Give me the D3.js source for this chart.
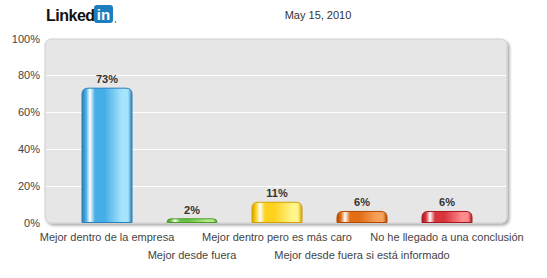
<!DOCTYPE html>
<html>
<head>
<meta charset="utf-8">
<script src="https://cdn.jsdelivr.net/npm/d3@7"></script>
<style>
  body { margin: 0; background: #fff; }
  text { font-family: "Liberation Sans", Arial, sans-serif; }
</style>
</head>
<body>
<svg id="chart" width="547" height="278"></svg>
<script>
// data
var categories = ["Mejor dentro de la empresa", "Mejor desde fuera", "Mejor dentro pero es más caro",
                  "Mejor desde fuera si está informado", "No he llegado a una conclusión"];
var values = [73, 2, 11, 6, 6];
var yTicks = [0, 20, 40, 60, 80, 100];
var barColors = [
    { dark: "#2a7fb8", mid: "#45aee6", light: "#a6e4fc" },
    { dark: "#4c9a2a", mid: "#6cc446", light: "#b4ec8c" },
    { dark: "#d4a000", mid: "#ffd21e", light: "#fff58a" },
    { dark: "#b14a00", mid: "#e26e16", light: "#f6a25a" },
    { dark: "#a81820", mid: "#d8343c", light: "#ff8a8e" }
];
var chartDate = "May 15, 2010";

var svg = d3.select("#chart");

// plot box
var plot = { left: 45, top: 39, right: 507, bottom: 223 };

var defs = svg.append("defs");
var shadow = defs.append("filter").attr("id", "shadow")
    .attr("x", "-5%").attr("y", "-5%").attr("width", "115%").attr("height", "115%");
shadow.append("feGaussianBlur").attr("in", "SourceAlpha").attr("stdDeviation", 1.5);
shadow.append("feOffset").attr("dx", 2).attr("dy", 2).attr("result", "ob");
shadow.append("feComponentTransfer").append("feFuncA").attr("type", "linear").attr("slope", 0.35);
var merge = shadow.append("feMerge");
merge.append("feMergeNode");
merge.append("feMergeNode").attr("in", "SourceGraphic");

barColors.forEach(function (c, i) {
    var g = defs.append("linearGradient").attr("id", "grad" + i)
        .attr("x1", "0%").attr("x2", "100%").attr("y1", "0%").attr("y2", "0%");
    var stops = [[0, c.dark], [0.08, c.mid], [0.16, "#ffffff"], [0.26, c.mid], [0.45, c.mid],
                 [0.8, c.light], [0.92, c.light], [1, c.dark]];
    stops.forEach(function (s) {
        g.append("stop").attr("offset", s[0]).attr("stop-color", s[1]);
    });
});

svg.append("rect")
    .attr("x", plot.left).attr("y", plot.top)
    .attr("width", plot.right - plot.left).attr("height", plot.bottom - plot.top)
    .attr("rx", 6).attr("ry", 6)
    .attr("fill", "#e6e6e6")
    .attr("stroke", "#cfcfcf")
    .attr("filter", "url(#shadow)");

// scales
var x = d3.scaleBand()
    .domain(categories)
    .range([64.5, 489.5]);

var y = d3.scaleLinear()
    .domain([0, 100])
    .range([222.5, 38.5]);

var barWidth = 50;

// gridlines
svg.append("g")
    .selectAll("line")
    .data(yTicks.filter(function (t) { return t > 0 && t < 100; }))
    .enter().append("line")
    .attr("x1", plot.left + 1).attr("x2", plot.right - 1)
    .attr("y1", function (d) { return Math.round(y(d)) + 0.5; })
    .attr("y2", function (d) { return Math.round(y(d)) + 0.5; })
    .attr("stroke", "#ffffff")
    .attr("stroke-width", 1);

// y axis
var yAxis = d3.axisLeft(y)
    .tickValues(yTicks)
    .tickSize(0)
    .tickPadding(0)
    .tickFormat(function (d) { return d + "%"; });

var yg = svg.append("g")
    .attr("transform", "translate(40,0)")
    .call(yAxis);
yg.select(".domain").remove();
yg.selectAll("text")
    .attr("fill", "#444")
    .style("font-size", "11px")
    .style("font-family", "'Liberation Sans', Arial, sans-serif");

// bars with rounded tops
function barPath(x0, y0, w, h, r) {
    r = Math.min(r, h, w / 2);
    return "M" + x0 + "," + (y0 + h) +
        "V" + (y0 + r) +
        "Q" + x0 + "," + y0 + " " + (x0 + r) + "," + y0 +
        "H" + (x0 + w - r) +
        "Q" + (x0 + w) + "," + y0 + " " + (x0 + w) + "," + (y0 + r) +
        "V" + (y0 + h) + "Z";
}

var bars = svg.append("g");
bars.selectAll("path")
    .data(values)
    .enter().append("path")
    .attr("d", function (d, i) {
        var cx = x(categories[i]) + x.bandwidth() / 2;
        var top = y(d);
        return barPath(cx - barWidth / 2, top, barWidth, y(0) - top, 6);
    })
    .attr("fill", function (d, i) { return "url(#grad" + i + ")"; })
    .attr("stroke", function (d, i) { return barColors[i].dark; })
    .attr("stroke-width", 1);

// value labels
svg.append("g")
    .selectAll("text")
    .data(values)
    .enter().append("text")
    .attr("x", function (d, i) { return x(categories[i]) + x.bandwidth() / 2; })
    .attr("y", function (d) { return y(d) - 5; })
    .attr("text-anchor", "middle")
    .attr("fill", "#333")
    .style("font-size", "11px")
    .style("font-weight", "bold")
    .text(function (d) { return d + "%"; });

// category labels (staggered)
svg.append("g")
    .selectAll("text")
    .data(categories)
    .enter().append("text")
    .attr("x", function (d) { return x(d) + x.bandwidth() / 2; })
    .attr("y", function (d, i) { return i % 2 === 0 ? 241 : 259; })
    .attr("text-anchor", "middle")
    .attr("fill", "#444")
    .style("font-size", "11px")
    .text(function (d) { return d; });

// header: logo and date
svg.append("text")
    .attr("x", 46).attr("y", 21)
    .attr("fill", "#111")
    .style("font-size", "16px")
    .style("font-weight", "bold")
    .style("letter-spacing", "-0.5px")
    .text("Linked");
svg.append("rect")
    .attr("x", 94).attr("y", 5).attr("width", 19).attr("height", 18)
    .attr("rx", 3).attr("fill", "#1b7fbf");
svg.append("text")
    .attr("x", 103.5).attr("y", 20)
    .attr("text-anchor", "middle")
    .attr("fill", "#fff")
    .style("font-size", "15px")
    .style("font-weight", "bold")
    .text("in");
svg.append("circle").attr("cx", 115.5).attr("cy", 22).attr("r", 0.8).attr("fill", "#555");

svg.append("text")
    .attr("x", 318).attr("y", 19)
    .attr("text-anchor", "middle")
    .attr("fill", "#333")
    .style("font-size", "11px")
    .text(chartDate);
</script>
</body>
</html>
